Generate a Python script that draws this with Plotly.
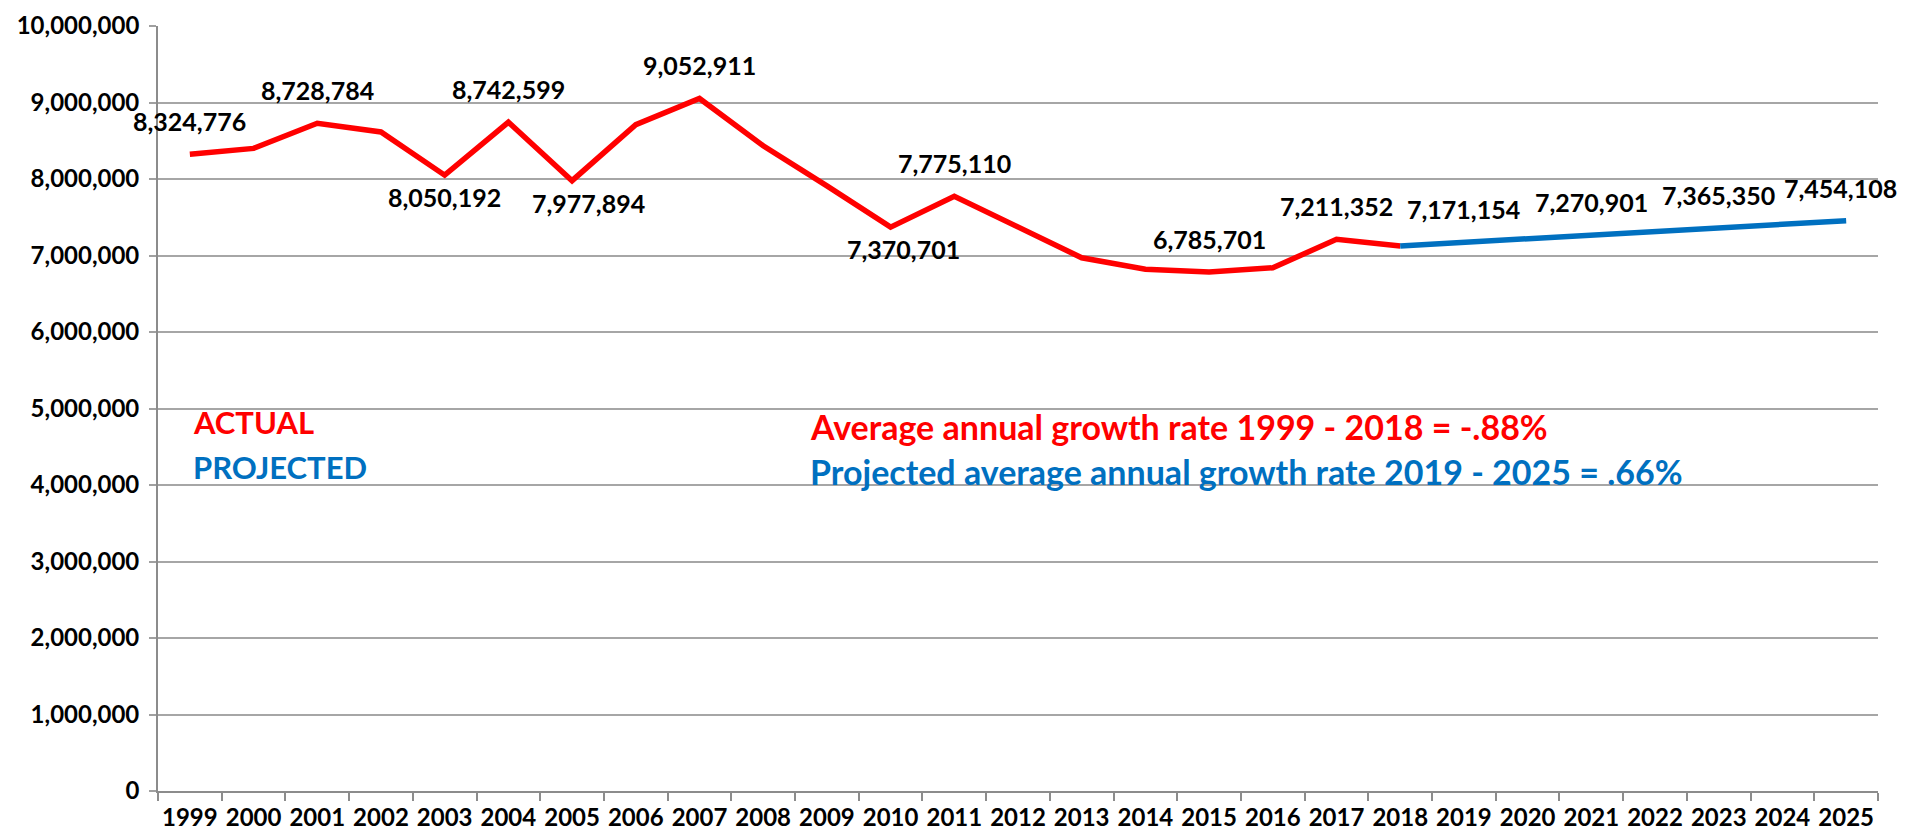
import plotly.graph_objects as go

years = [str(y) for y in range(1999, 2026)]

actual_years = [str(y) for y in range(1999, 2019)]
actual_values = [8324776, 8400000, 8728784, 8615000, 8050192, 8742599, 7977894,
                 8710000, 9052911, 8435000, 7910000, 7370701, 7775110, 7380000,
                 6970000, 6820000, 6785701, 6840000, 7211352, 7125000]

projected_years = [str(y) for y in range(2018, 2026)]
projected_values = [7125000, 7171154, 7221000, 7270901, 7318000, 7365350, 7410000, 7454108]

# labelled points: (year, value, position, horizontal nudge)
label_years = ["1999", "2001", "2003", "2004", "2005", "2007", "2010", "2011",
               "2015", "2017", "2019", "2021", "2023", "2025"]
label_values = [8324776, 8728784, 8050192, 8742599, 7977894, 9052911, 7370701,
                7775110, 6785701, 7211352, 7171154, 7270901, 7365350, 7454108]
label_pos = ["above", "above", "below", "above", "below", "above", "below", "above",
             "above", "above", "above", "above", "above", "above"]
label_dx = [0, 0, 0, 0, 16, 0, 13, 0, 0, 0, 0, 0, 0, -6]

y_ticks = list(range(0, 10000001, 1000000))
y_tick_text = [f"{v:,}" for v in y_ticks]

RED = "#FF0000"
BLUE = "#0070C0"
FONT = "Lato"

fig = go.Figure()
fig.add_trace(go.Scatter(x=actual_years, y=actual_values, mode="lines",
                         line=dict(color=RED, width=5.5), hoverinfo="skip",
                         showlegend=False))
fig.add_trace(go.Scatter(x=projected_years, y=projected_values, mode="lines",
                         line=dict(color=BLUE, width=5.5), hoverinfo="skip",
                         showlegend=False))

annotations = []
for yr, v, pos, dx in zip(label_years, label_values, label_pos, label_dx):
    annotations.append(dict(
        x=years.index(yr), y=v, xref="x", yref="y", text=f"{v:,}", showarrow=False,
        xanchor="center", yanchor="middle",
        yshift=33 if pos == "above" else -22, xshift=dx,
        font=dict(family=FONT, size=25, color="#000000", weight=700)))

annotations += [
    dict(xref="paper", yref="paper", x=0.019, y=0.482, xanchor="left", yanchor="middle",
         text="ACTUAL", showarrow=False,
         font=dict(family=FONT, size=31, color=RED, weight=700)),
    dict(xref="paper", yref="paper", x=0.019, y=0.423, xanchor="left", yanchor="middle",
         text="PROJECTED", showarrow=False,
         font=dict(family=FONT, size=31, color=BLUE, weight=700)),
    dict(xref="paper", yref="paper", x=0.378, y=0.477, xanchor="left", yanchor="middle",
         text="Average annual growth rate 1999 - 2018 = -.88%", showarrow=False,
         font=dict(family=FONT, size=34, color=RED, weight=700)),
    dict(xref="paper", yref="paper", x=0.378, y=0.418, xanchor="left", yanchor="middle",
         text="Projected average annual growth rate 2019 - 2025 = .66%", showarrow=False,
         font=dict(family=FONT, size=34, color=BLUE, weight=700)),
]

fig.update_layout(
    width=1913, height=835,
    margin=dict(l=150, r=43, t=18, b=52),
    paper_bgcolor="white", plot_bgcolor="white",
    annotations=annotations,
    showlegend=False,
)
fig.update_xaxes(
    type="category", categoryorder="array", categoryarray=years,
    range=[-0.5, len(years) - 0.5],
    tickmode="array", tickvals=years, ticktext=years,
    tickson="boundaries", ticks="outside", ticklen=8, tickcolor="#8C8C8C", tickwidth=1.5,
    showline=True, linecolor="#8C8C8C", linewidth=1.8,
    showgrid=False, zeroline=False, automargin=False, tickangle=0,
    tickfont=dict(family=FONT, size=24, color="#000000", weight=700),
    ticklabelstandoff=4,
)
fig.update_yaxes(
    range=[0, 10000000], tickmode="array", tickvals=y_ticks, ticktext=y_tick_text,
    ticks="outside", ticklen=7, tickcolor="#A0A0A0", tickwidth=1.5,
    showline=True, linecolor="#8C8C8C", linewidth=1.8,
    showgrid=True, gridcolor="#A6A6A6", gridwidth=1.5, zeroline=False, automargin=False,
    ticklabeloverflow="allow",
    tickfont=dict(family=FONT, size=24, color="#000000", weight=700),
    ticklabelstandoff=5,
)

fig.write_html("out.html")
